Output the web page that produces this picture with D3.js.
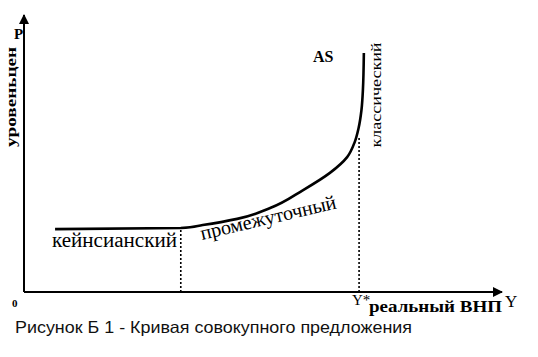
<!DOCTYPE html>
<html><head><meta charset="utf-8">
<script src="https://cdn.jsdelivr.net/npm/d3@7"></script>
<style>body{margin:0;background:#fff}svg{display:block}</style>
</head><body>
<svg id="c" width="538" height="357"></svg>
<script>
// Data (arbitrary units: real GDP Y 0..100, price level P 0..100)
const curveY = [6.5, 32.8, 37.4, 44.6, 51.5, 58.4, 64.0, 67.6, 69.2, 70.0, 70.6, 70.9, 71.1];
const curveP = [22.7, 23.1, 24.2, 26.4, 30.3, 36.8, 43.0, 48.7, 54.2, 59.2, 65.7, 72.9, 86.3];
const boundaryY = [32.8, 70.1];      // Keynesian end, Y*
const boundaryP = [23.1, 55.6];
const segmentLabels = ["кейнсианский", "промежуточный", "классический"];
const axisLabels = ["P", "уровеньцен", "Y", "реальный ВНП", "Y*", "0", "AS"];
const caption = "Рисунок Б 1 - Кривая совокупного предложения";

const svg = d3.select("#c");
const x = d3.scaleLinear().domain([0, 100]).range([24, 502]);
const y = d3.scaleLinear().domain([0, 100]).range([292, 15]);
const serif = "Liberation Serif, Times New Roman, serif";

svg.append("defs").append("marker").attr("id", "arr")
  .attr("viewBox", "0 0 10 10").attr("refX", 9).attr("refY", 5)
  .attr("markerWidth", 5).attr("markerHeight", 5).attr("orient", "auto")
  .append("path").attr("d", "M0,0L10,5L0,10z").attr("fill", "#000");

svg.append("line").attr("x1", x(0)).attr("y1", y(0)).attr("x2", x(0)).attr("y2", y(100))
  .attr("stroke", "#000").attr("stroke-width", 2).attr("marker-end", "url(#arr)");
svg.append("line").attr("x1", x(0)).attr("y1", y(0)).attr("x2", x(100)).attr("y2", y(0))
  .attr("stroke", "#000").attr("stroke-width", 2).attr("marker-end", "url(#arr)");

boundaryY.forEach((bx, i) => {
  svg.append("line").attr("x1", x(bx)).attr("x2", x(bx)).attr("y1", y(0)).attr("y2", y(boundaryP[i]))
    .attr("stroke", "#000").attr("stroke-width", 1.6).attr("stroke-dasharray", "2,2");
});

const pts = curveY.map((v, i) => [v, curveP[i]]);
svg.append("path").datum(pts)
  .attr("d", d3.line().x(d => x(d[0])).y(d => y(d[1])).curve(d3.curveMonotoneY))
  .attr("fill", "none").attr("stroke", "#000").attr("stroke-width", 2.6);

const t = (txt, px, py, size, weight, extra) => {
  const e = svg.append("text").attr("x", px).attr("y", py).text(txt)
    .style("font-family", serif).attr("font-size", size).attr("font-weight", weight).attr("fill", "#000");
  if (extra) extra(e);
  return e;
};
t(axisLabels[0], 14, 39, 15, "bold");
t(axisLabels[1], 0, 0, 14, "bold", e => e.attr("text-anchor", "middle")
  .attr("transform", "translate(16,97) rotate(-90)").attr("textLength", 100).attr("lengthAdjust", "spacingAndGlyphs"));
t(axisLabels[6], 313, 62, 16, "bold");
t(segmentLabels[2], 0, 0, 15, "normal", e => e.attr("text-anchor", "middle")
  .attr("transform", "translate(381,95) rotate(-90)").attr("textLength", 105).attr("lengthAdjust", "spacingAndGlyphs"));
t(segmentLabels[0], 52, 247, 20, "normal", e => e.attr("textLength", 125).attr("lengthAdjust", "spacingAndGlyphs"));
t(segmentLabels[1], 0, 0, 20, "normal", e => e
  .attr("transform", "translate(202,240) rotate(-13.2)").attr("textLength", 139).attr("lengthAdjust", "spacingAndGlyphs"));
t(axisLabels[5], 12, 307, 11, "bold");
t(axisLabels[4], 352, 305, 15, "normal");
t(axisLabels[3], 369, 312, 16, "bold", e => e.attr("textLength", 133).attr("lengthAdjust", "spacingAndGlyphs"));
t(axisLabels[2], 505, 307, 17, "normal");

svg.append("text").attr("x", 15).attr("y", 333).text(caption)
  .style("font-family", "Liberation Sans, Arial, sans-serif").attr("font-size", 16.5).attr("fill", "#111")
  .attr("textLength", 397).attr("lengthAdjust", "spacingAndGlyphs");
</script>
</body></html>
